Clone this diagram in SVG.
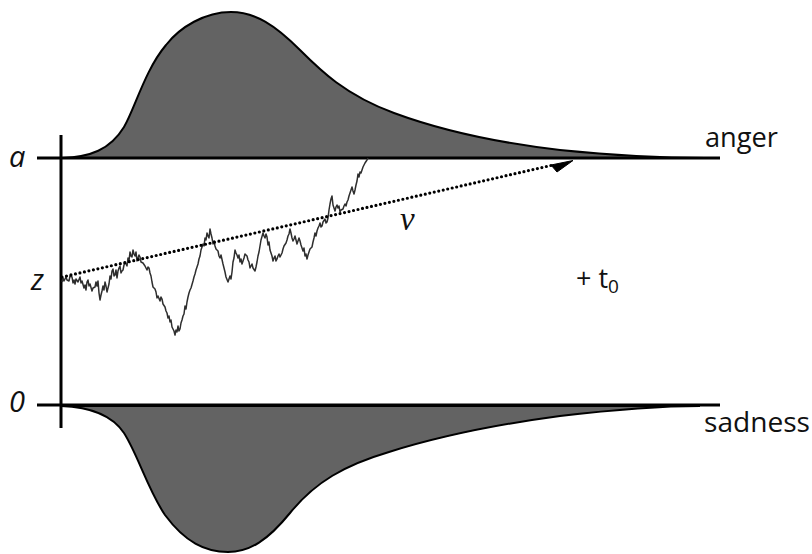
<svg xmlns="http://www.w3.org/2000/svg" width="812" height="554" viewBox="0 0 812 554">
<defs>
<style>
.lbl{font-family:"Open Sans","Liberation Sans",sans-serif;font-size:27px;fill:#111}
.it{font-family:"Open Sans","Liberation Sans",sans-serif;font-style:italic;font-size:29px;fill:#111}
.nu{font-family:"Liberation Serif","DejaVu Serif",serif;font-style:italic;font-size:33px;fill:#111}
.dist{fill:#636363;stroke:#000;stroke-width:2}
.axis{stroke:#000;stroke-width:3;fill:none}
</style>
</defs>
<rect width="812" height="554" fill="#fff"/>
<g id="anger-dist">
<path class="dist" d="M62 158 C90 157,110 150,124 127 C135 108,145 70,166 45 C180 27,205 12,231 12 C255 12,275 25,300 50 C320 70,345 95,394 113 C440 130,500 143,560 150 C620 156,670 158,705 158 Z"/>
</g>
<g id="sadness-dist">
<path class="dist" d="M61 406 C90 407,112 415,124 433 C138 455,148 490,165 515 C185 542,205 552,228 552 C250 552,268 540,290 513 C315 482,345 465,389 452 C440 436,500 424,560 416 C620 409,670 406,700 406 Z"/>
</g>
<g id="axes">
<line class="axis" x1="37" y1="158" x2="720" y2="158"/>
<line class="axis" x1="37" y1="405" x2="720" y2="405"/>
<line class="axis" x1="61" y1="135" x2="61" y2="428"/>
</g>
<g id="walk">
<polyline fill="none" stroke="#2e2e2e" stroke-width="1.5" stroke-linejoin="round" points="62,282 63,278 64,281 66,277 67,280 69,281 70,276 72,277 73,283 74,280 75,284 76,279 78,282 80,277 81,283 82,281 84,288 85,285 86,290 87,282 88,280 89,286 90,284 92,291 93,288 95,287 96,282 97,286 98,281 99,293 100,300 101,295 102,291 103,286 104,290 105,282 106,286 107,292 108,288 109,284 110,276 111,279 112,271 113,269 114,276 115,275 116,270 117,278 118,271 119,268 120,266 121,273 122,271 123,270 124,265 125,262 127,266 128,258 129,261 130,252 131,256 132,257 133,250 134,254 135,256 136,252 137,261 138,258 139,255 140,257 141,262 143,263 145,266 147,270 148,267 149,268 150,273 151,276 152,282 153,287 155,289 156,292 157,298 158,296 160,301 161,297 162,299 163,304 165,307 166,311 167,313 168,318 169,316 170,322 171,320 172,327 173,329 174,331 175,335 176,330 177,332 178,326 179,331 180,329 181,323 182,320 183,316 184,314 185,306 186,309 187,302 188,297 189,293 190,290 191,288 193,281 194,277 195,274 196,270 198,264 199,259 200,256 201,250 203,244 204,246 205,238 206,240 207,233 208,236 209,238 210,229 211,234 212,238 213,244 214,241 215,246 216,249 218,251 219,256 220,258 221,255 223,264 224,268 225,272 226,277 228,282 229,279 230,276 231,279 232,272 233,262 234,258 235,250 236,253 237,255 238,258 239,255 240,262 241,259 242,264 243,261 244,258 245,254 247,256 248,260 249,262 250,268 251,266 252,264 253,268 255,271 256,267 257,262 258,256 259,252 260,246 261,240 263,233 264,236 265,238 266,234 267,237 268,245 269,242 270,250 271,253 272,256 273,261 274,258 275,256 276,261 277,259 278,256 279,254 280,257 282,253 283,249 284,246 286,243 287,240 288,236 289,234 290,229 291,233 292,238 293,241 294,239 295,236 296,240 297,244 298,241 299,238 300,241 301,245 302,248 303,251 304,248 305,256 306,254 307,259 308,255 309,252 310,249 312,247 313,242 314,238 315,233 316,236 317,231 318,228 319,226 320,223 321,227 322,226 323,222 325,219 326,223 327,222 328,218 329,210 330,204 331,199 332,196 333,205 334,208 335,211 336,207 337,205 338,208 339,206 340,212 341,210 343,209 344,206 345,204 346,206 347,202 348,200 349,196 350,193 351,190 352,187 353,191 354,194 355,190 356,185 357,181 358,174 359,177 360,172 361,173 362,170 363,167 364,165 365,163 367,160 368,158"/>
</g>
<g id="drift">
<line x1="62" y1="277" x2="553" y2="165" stroke="#000" stroke-width="3.2" stroke-linecap="round" stroke-dasharray="0 4.6"/>
<polygon points="551,165 573,160.5 557,172" fill="#000" stroke="#000" stroke-width="1"/>
</g>
<g id="labels">
<text class="it" x="9" y="167">a</text>
<text class="it" x="31" y="290">z</text>
<text class="it" x="9" y="412">0</text>
<text class="nu" x="400" y="230">ν</text>
<text class="lbl" x="705" y="147" textLength="73" lengthAdjust="spacingAndGlyphs">anger</text>
<text class="lbl" x="704" y="432" textLength="106" lengthAdjust="spacingAndGlyphs">sadness</text>
<text class="lbl" x="576" y="288">+ t<tspan font-size="19" dy="5">0</tspan></text>
</g>
</svg>
